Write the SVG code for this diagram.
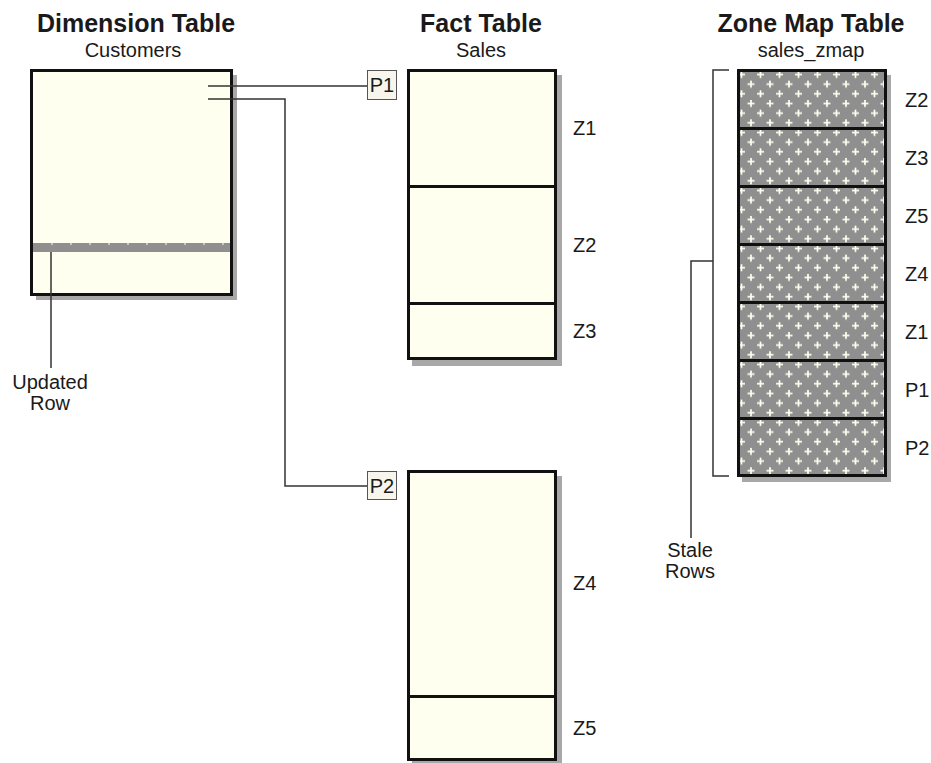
<svg xmlns="http://www.w3.org/2000/svg" width="931" height="763" viewBox="0 0 931 763">
<defs>
<pattern id="plus" patternUnits="userSpaceOnUse" x="737" y="70" width="19" height="19.33">
<rect width="19" height="19.33" fill="#8f8f8f"/>
<path d="M1 4.5h7M4.5 1v7M10.5 14.2h7M14 10.7v7" stroke="#fffff0" stroke-width="1.7"/>
</pattern>
<style>
.t{font-family:"Liberation Sans",Arial,sans-serif;fill:#1a1a1a}
.b{font-weight:bold;font-size:25px;text-anchor:middle}
.s{font-size:20px;text-anchor:middle}
.l{font-size:20px}
.box{fill:#fffff0;stroke:#111;stroke-width:3}
.sh{fill:#a8a8a8}
.div{stroke:#111;stroke-width:3}
.c{fill:none;stroke:#333;stroke-width:1.5}
.pb{fill:#f7f5ec;stroke:#555;stroke-width:1}
</style>
</defs>
<g id="titles">
<text class="t b" x="136" y="32">Dimension Table</text>
<text class="t s" x="133" y="57">Customers</text>
<text class="t b" x="481" y="32">Fact Table</text>
<text class="t s" x="481" y="57">Sales</text>
<text class="t b" x="811" y="32">Zone Map Table</text>
<text class="t s" x="811" y="57">sales_zmap</text>
</g>
<g id="customers">
<rect class="sh" x="36" y="75" width="201" height="225"/>
<rect class="box" x="31.5" y="70.5" width="200" height="224"/>
<rect x="33" y="243" width="197" height="9" fill="#8f8f8f"/>
<path d="M52 243v2M71 243v2M90 243v2M109 243v2M128 243v2M147 243v2M166 243v2M185 243v2M204 243v2M223 243v2" stroke="#fffff0" stroke-width="1"/>
</g>
<g id="connectors">
<path class="c" d="M208 86H367"/>
<path class="c" d="M208 99H285V486H367"/>
<path class="c" d="M51 252V368"/>
<path class="c" d="M729 70H713V476H729"/>
<path class="c" d="M713 261H691V538"/>
</g>
<g id="p1">
<rect class="pb" x="367.5" y="70.5" width="29" height="29"/>
<text class="t s" x="382" y="92">P1</text>
</g>
<g id="p2">
<rect class="pb" x="367.5" y="471.5" width="29" height="28"/>
<text class="t s" x="382" y="493">P2</text>
</g>
<g id="sales-upper">
<rect class="sh" x="412" y="75" width="150" height="291"/>
<rect class="box" x="408.5" y="70.5" width="147" height="288"/>
<path class="div" d="M408 186.5H556M408 303.5H556"/>
<text class="t l" x="573" y="135">Z1</text>
<text class="t l" x="573" y="252">Z2</text>
<text class="t l" x="573" y="338">Z3</text>
</g>
<g id="sales-lower">
<rect class="sh" x="412" y="476" width="150" height="290"/>
<rect class="box" x="408.5" y="471.5" width="147" height="288"/>
<path class="div" d="M408 696.5H556"/>
<text class="t l" x="573" y="590">Z4</text>
<text class="t l" x="573" y="735">Z5</text>
</g>
<g id="zonemap">
<rect class="sh" x="742" y="75" width="149" height="407"/>
<rect x="738.5" y="70.5" width="147" height="405" fill="url(#plus)" stroke="#111" stroke-width="3"/>
<path class="div" d="M738 128.5H885M738 186.5H885M738 244.5H885M738 302.5H885M738 360.5H885M738 418.5H885"/>
<text class="t l" x="905" y="107">Z2</text>
<text class="t l" x="905" y="165">Z3</text>
<text class="t l" x="905" y="223">Z5</text>
<text class="t l" x="905" y="281">Z4</text>
<text class="t l" x="905" y="339">Z1</text>
<text class="t l" x="905" y="397">P1</text>
<text class="t l" x="905" y="455">P2</text>
</g>
<g id="labels">
<text class="t s" x="50" y="389">Updated</text>
<text class="t s" x="50" y="410">Row</text>
<text class="t s" x="690" y="557">Stale</text>
<text class="t s" x="690" y="578">Rows</text>
</g>
</svg>
